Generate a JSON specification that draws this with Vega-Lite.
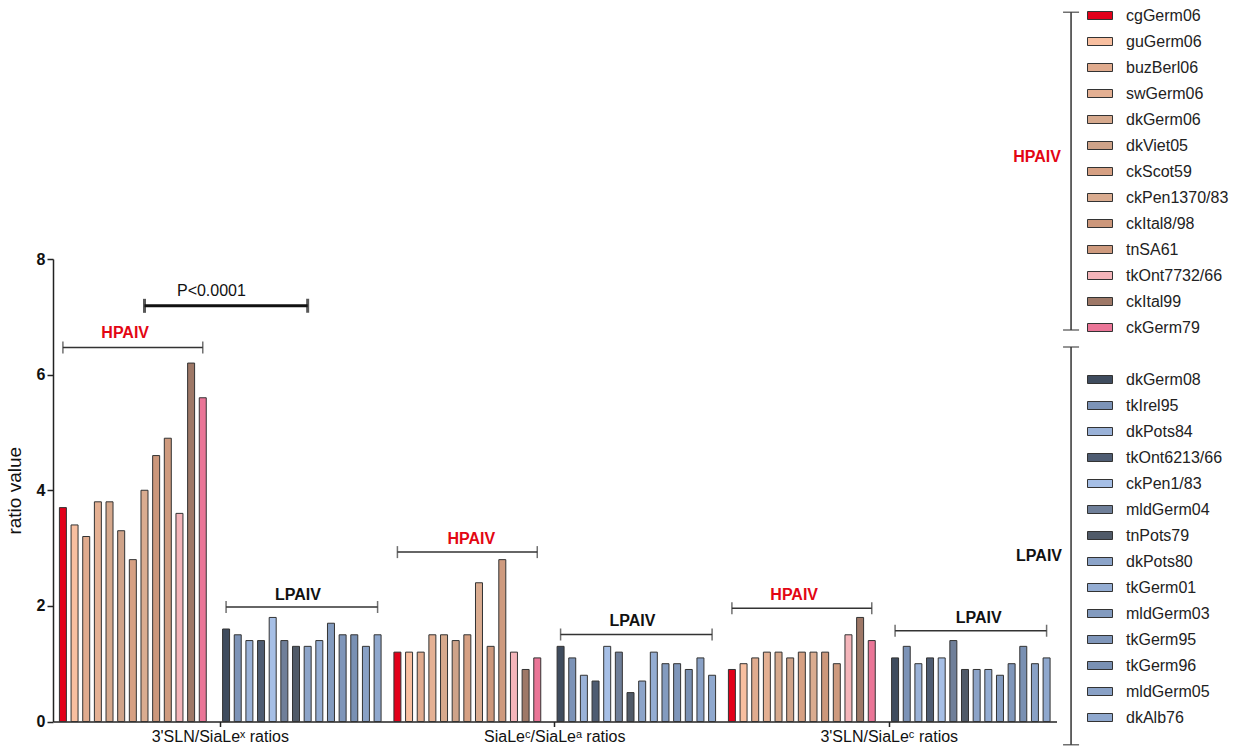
{
  "$schema": "https://vega.github.io/schema/vega-lite/v6.json",
  "width": 1003.5,
  "height": 462.5,
  "autosize": {"type": "none"},
  "padding": {"left": 53, "top": 259, "right": 176.5, "bottom": 26.5},
  "background": "white",
  "config": {
    "view": {"stroke": null},
    "font": "Liberation Sans, Arial, sans-serif",
    "axisY": {"titleFontSize": 19, "titleFontWeight": "normal", "titleColor": "#111", "titlePadding": 12, "format": "d", "labelFontSize": 16, "labelFontWeight": "bold", "labelColor": "#111", "grid": false, "tickSize": 6, "tickColor": "#222", "tickWidth": 1.5, "domainColor": "#222", "domainWidth": 1.5, "labelPadding": 2},
    "legend": {"orient": "none", "direction": "vertical", "title": null, "labelFontSize": 16, "labelColor": "#222", "labelOffset": 15.5, "symbolType": "M-1.25,-0.4H1.25V0.4H-1.25Z", "symbolSize": 400, "rowPadding": 7, "padding": 0, "symbolStrokeWidth": 1, "symbolStrokeColor": "#333"}
  },
  "datasets": {
    "bars": [
      {"ratio": "3'SLN/SiaLeˣ ratios", "strain": "cgGerm06", "value": 3.7},
      {"ratio": "3'SLN/SiaLeˣ ratios", "strain": "guGerm06", "value": 3.4},
      {"ratio": "3'SLN/SiaLeˣ ratios", "strain": "buzBerl06", "value": 3.2},
      {"ratio": "3'SLN/SiaLeˣ ratios", "strain": "swGerm06", "value": 3.8},
      {"ratio": "3'SLN/SiaLeˣ ratios", "strain": "dkGerm06", "value": 3.8},
      {"ratio": "3'SLN/SiaLeˣ ratios", "strain": "dkViet05", "value": 3.3},
      {"ratio": "3'SLN/SiaLeˣ ratios", "strain": "ckScot59", "value": 2.8},
      {"ratio": "3'SLN/SiaLeˣ ratios", "strain": "ckPen1370/83", "value": 4.0},
      {"ratio": "3'SLN/SiaLeˣ ratios", "strain": "ckItal8/98", "value": 4.6},
      {"ratio": "3'SLN/SiaLeˣ ratios", "strain": "tnSA61", "value": 4.9},
      {"ratio": "3'SLN/SiaLeˣ ratios", "strain": "tkOnt7732/66", "value": 3.6},
      {"ratio": "3'SLN/SiaLeˣ ratios", "strain": "ckItal99", "value": 6.2},
      {"ratio": "3'SLN/SiaLeˣ ratios", "strain": "ckGerm79", "value": 5.6},
      {"ratio": "3'SLN/SiaLeˣ ratios", "strain": "dkGerm08", "value": 1.6},
      {"ratio": "3'SLN/SiaLeˣ ratios", "strain": "tkIrel95", "value": 1.5},
      {"ratio": "3'SLN/SiaLeˣ ratios", "strain": "dkPots84", "value": 1.4},
      {"ratio": "3'SLN/SiaLeˣ ratios", "strain": "tkOnt6213/66", "value": 1.4},
      {"ratio": "3'SLN/SiaLeˣ ratios", "strain": "ckPen1/83", "value": 1.8},
      {"ratio": "3'SLN/SiaLeˣ ratios", "strain": "mldGerm04", "value": 1.4},
      {"ratio": "3'SLN/SiaLeˣ ratios", "strain": "tnPots79", "value": 1.3},
      {"ratio": "3'SLN/SiaLeˣ ratios", "strain": "dkPots80", "value": 1.3},
      {"ratio": "3'SLN/SiaLeˣ ratios", "strain": "tkGerm01", "value": 1.4},
      {"ratio": "3'SLN/SiaLeˣ ratios", "strain": "mldGerm03", "value": 1.7},
      {"ratio": "3'SLN/SiaLeˣ ratios", "strain": "tkGerm95", "value": 1.5},
      {"ratio": "3'SLN/SiaLeˣ ratios", "strain": "tkGerm96", "value": 1.5},
      {"ratio": "3'SLN/SiaLeˣ ratios", "strain": "mldGerm05", "value": 1.3},
      {"ratio": "3'SLN/SiaLeˣ ratios", "strain": "dkAlb76", "value": 1.5},
      {"ratio": "SiaLeᶜ/SiaLeᵃ ratios", "strain": "cgGerm06", "value": 1.2},
      {"ratio": "SiaLeᶜ/SiaLeᵃ ratios", "strain": "guGerm06", "value": 1.2},
      {"ratio": "SiaLeᶜ/SiaLeᵃ ratios", "strain": "buzBerl06", "value": 1.2},
      {"ratio": "SiaLeᶜ/SiaLeᵃ ratios", "strain": "swGerm06", "value": 1.5},
      {"ratio": "SiaLeᶜ/SiaLeᵃ ratios", "strain": "dkGerm06", "value": 1.5},
      {"ratio": "SiaLeᶜ/SiaLeᵃ ratios", "strain": "dkViet05", "value": 1.4},
      {"ratio": "SiaLeᶜ/SiaLeᵃ ratios", "strain": "ckScot59", "value": 1.5},
      {"ratio": "SiaLeᶜ/SiaLeᵃ ratios", "strain": "ckPen1370/83", "value": 2.4},
      {"ratio": "SiaLeᶜ/SiaLeᵃ ratios", "strain": "ckItal8/98", "value": 1.3},
      {"ratio": "SiaLeᶜ/SiaLeᵃ ratios", "strain": "tnSA61", "value": 2.8},
      {"ratio": "SiaLeᶜ/SiaLeᵃ ratios", "strain": "tkOnt7732/66", "value": 1.2},
      {"ratio": "SiaLeᶜ/SiaLeᵃ ratios", "strain": "ckItal99", "value": 0.9},
      {"ratio": "SiaLeᶜ/SiaLeᵃ ratios", "strain": "ckGerm79", "value": 1.1},
      {"ratio": "SiaLeᶜ/SiaLeᵃ ratios", "strain": "dkGerm08", "value": 1.3},
      {"ratio": "SiaLeᶜ/SiaLeᵃ ratios", "strain": "tkIrel95", "value": 1.1},
      {"ratio": "SiaLeᶜ/SiaLeᵃ ratios", "strain": "dkPots84", "value": 0.8},
      {"ratio": "SiaLeᶜ/SiaLeᵃ ratios", "strain": "tkOnt6213/66", "value": 0.7},
      {"ratio": "SiaLeᶜ/SiaLeᵃ ratios", "strain": "ckPen1/83", "value": 1.3},
      {"ratio": "SiaLeᶜ/SiaLeᵃ ratios", "strain": "mldGerm04", "value": 1.2},
      {"ratio": "SiaLeᶜ/SiaLeᵃ ratios", "strain": "tnPots79", "value": 0.5},
      {"ratio": "SiaLeᶜ/SiaLeᵃ ratios", "strain": "dkPots80", "value": 0.7},
      {"ratio": "SiaLeᶜ/SiaLeᵃ ratios", "strain": "tkGerm01", "value": 1.2},
      {"ratio": "SiaLeᶜ/SiaLeᵃ ratios", "strain": "mldGerm03", "value": 1.0},
      {"ratio": "SiaLeᶜ/SiaLeᵃ ratios", "strain": "tkGerm95", "value": 1.0},
      {"ratio": "SiaLeᶜ/SiaLeᵃ ratios", "strain": "tkGerm96", "value": 0.9},
      {"ratio": "SiaLeᶜ/SiaLeᵃ ratios", "strain": "mldGerm05", "value": 1.1},
      {"ratio": "SiaLeᶜ/SiaLeᵃ ratios", "strain": "dkAlb76", "value": 0.8},
      {"ratio": "3'SLN/SiaLeᶜ ratios", "strain": "cgGerm06", "value": 0.9},
      {"ratio": "3'SLN/SiaLeᶜ ratios", "strain": "guGerm06", "value": 1.0},
      {"ratio": "3'SLN/SiaLeᶜ ratios", "strain": "buzBerl06", "value": 1.1},
      {"ratio": "3'SLN/SiaLeᶜ ratios", "strain": "swGerm06", "value": 1.2},
      {"ratio": "3'SLN/SiaLeᶜ ratios", "strain": "dkGerm06", "value": 1.2},
      {"ratio": "3'SLN/SiaLeᶜ ratios", "strain": "dkViet05", "value": 1.1},
      {"ratio": "3'SLN/SiaLeᶜ ratios", "strain": "ckScot59", "value": 1.2},
      {"ratio": "3'SLN/SiaLeᶜ ratios", "strain": "ckPen1370/83", "value": 1.2},
      {"ratio": "3'SLN/SiaLeᶜ ratios", "strain": "ckItal8/98", "value": 1.2},
      {"ratio": "3'SLN/SiaLeᶜ ratios", "strain": "tnSA61", "value": 1.0},
      {"ratio": "3'SLN/SiaLeᶜ ratios", "strain": "tkOnt7732/66", "value": 1.5},
      {"ratio": "3'SLN/SiaLeᶜ ratios", "strain": "ckItal99", "value": 1.8},
      {"ratio": "3'SLN/SiaLeᶜ ratios", "strain": "ckGerm79", "value": 1.4},
      {"ratio": "3'SLN/SiaLeᶜ ratios", "strain": "dkGerm08", "value": 1.1},
      {"ratio": "3'SLN/SiaLeᶜ ratios", "strain": "tkIrel95", "value": 1.3},
      {"ratio": "3'SLN/SiaLeᶜ ratios", "strain": "dkPots84", "value": 1.0},
      {"ratio": "3'SLN/SiaLeᶜ ratios", "strain": "tkOnt6213/66", "value": 1.1},
      {"ratio": "3'SLN/SiaLeᶜ ratios", "strain": "ckPen1/83", "value": 1.1},
      {"ratio": "3'SLN/SiaLeᶜ ratios", "strain": "mldGerm04", "value": 1.4},
      {"ratio": "3'SLN/SiaLeᶜ ratios", "strain": "tnPots79", "value": 0.9},
      {"ratio": "3'SLN/SiaLeᶜ ratios", "strain": "dkPots80", "value": 0.9},
      {"ratio": "3'SLN/SiaLeᶜ ratios", "strain": "tkGerm01", "value": 0.9},
      {"ratio": "3'SLN/SiaLeᶜ ratios", "strain": "mldGerm03", "value": 0.8},
      {"ratio": "3'SLN/SiaLeᶜ ratios", "strain": "tkGerm95", "value": 1.0},
      {"ratio": "3'SLN/SiaLeᶜ ratios", "strain": "tkGerm96", "value": 1.3},
      {"ratio": "3'SLN/SiaLeᶜ ratios", "strain": "mldGerm05", "value": 1.0},
      {"ratio": "3'SLN/SiaLeᶜ ratios", "strain": "dkAlb76", "value": 1.1}
    ],
    "brackets": [
      {"id": "b1", "ratio": "3'SLN/SiaLeˣ ratios", "strain": "cgGerm06", "y": 6.47},
      {"id": "b1", "ratio": "3'SLN/SiaLeˣ ratios", "strain": "ckGerm79", "y": 6.47},
      {"id": "b2", "ratio": "3'SLN/SiaLeˣ ratios", "strain": "dkGerm08", "y": 1.98},
      {"id": "b2", "ratio": "3'SLN/SiaLeˣ ratios", "strain": "dkAlb76", "y": 1.98},
      {"id": "b3", "ratio": "SiaLeᶜ/SiaLeᵃ ratios", "strain": "cgGerm06", "y": 2.93},
      {"id": "b3", "ratio": "SiaLeᶜ/SiaLeᵃ ratios", "strain": "ckGerm79", "y": 2.93},
      {"id": "b4", "ratio": "SiaLeᶜ/SiaLeᵃ ratios", "strain": "dkGerm08", "y": 1.505},
      {"id": "b4", "ratio": "SiaLeᶜ/SiaLeᵃ ratios", "strain": "dkAlb76", "y": 1.505},
      {"id": "b5", "ratio": "3'SLN/SiaLeᶜ ratios", "strain": "cgGerm06", "y": 1.96},
      {"id": "b5", "ratio": "3'SLN/SiaLeᶜ ratios", "strain": "ckGerm79", "y": 1.96},
      {"id": "b6", "ratio": "3'SLN/SiaLeᶜ ratios", "strain": "dkGerm08", "y": 1.57},
      {"id": "b6", "ratio": "3'SLN/SiaLeᶜ ratios", "strain": "dkAlb76", "y": 1.57}
    ],
    "pbracket": [
      {"id": "p", "ratio": "3'SLN/SiaLeˣ ratios", "strain": "ckPen1370/83", "y": 7.19},
      {"id": "p", "ratio": "3'SLN/SiaLeˣ ratios", "strain": "dkPots80", "y": 7.19}
    ],
    "hlabels": [
      {"ratio": "3'SLN/SiaLeˣ ratios", "strain": "dkViet05", "y": 6.72, "text": "HPAIV"},
      {"ratio": "SiaLeᶜ/SiaLeᵃ ratios", "strain": "ckScot59", "y": 3.16, "text": "HPAIV"},
      {"ratio": "3'SLN/SiaLeᶜ ratios", "strain": "dkViet05", "y": 2.19, "text": "HPAIV"}
    ],
    "llabels": [
      {"ratio": "3'SLN/SiaLeˣ ratios", "strain": "tnPots79", "y": 2.19, "text": "LPAIV"},
      {"ratio": "SiaLeᶜ/SiaLeᵃ ratios", "strain": "tnPots79", "y": 1.73, "text": "LPAIV"},
      {"ratio": "3'SLN/SiaLeᶜ ratios", "strain": "dkPots80", "y": 1.79, "text": "LPAIV"}
    ],
    "plabel": [
      {"ratio": "3'SLN/SiaLeˣ ratios", "strain": " ", "y": 7.44, "text": "P<0.0001"}
    ],
    "legendBrackets": [
      {"group": "HPAIV", "pos": 1.0145, "top": 12.27, "bottom": 6.77, "labelPos": 0.9806, "labelY": 9.77},
      {"group": "LPAIV", "pos": 1.0145, "top": 6.48, "bottom": -0.4, "labelPos": 0.9826, "labelY": 2.86}
    ]
  },
  "layer": [
    {
      "encoding": {
        "x": {
          "field": "ratio", "type": "nominal", "sort": null,
          "scale": {"domain": ["3'SLN/SiaLeˣ ratios", "SiaLeᶜ/SiaLeᵃ ratios", "3'SLN/SiaLeᶜ ratios"], "paddingInner": 0, "paddingOuter": 0},
          "axis": {"title": null, "labelAngle": 0, "labelFontSize": 16, "labelColor": "#111", "domainColor": "#222", "domainWidth": 1.5, "tickColor": "#222", "tickWidth": 1.5, "tickSize": 5, "labelPadding": 2}
        },
        "xOffset": {
          "field": "strain", "type": "nominal",
          "scale": {
            "domain": ["cgGerm06", "guGerm06", "buzBerl06", "swGerm06", "dkGerm06", "dkViet05", "ckScot59", "ckPen1370/83", "ckItal8/98", "tnSA61", "tkOnt7732/66", "ckItal99", "ckGerm79", " ", "dkGerm08", "tkIrel95", "dkPots84", "tkOnt6213/66", "ckPen1/83", "mldGerm04", "tnPots79", "dkPots80", "tkGerm01", "mldGerm03", "tkGerm95", "tkGerm96", "mldGerm05", "dkAlb76"],
            "paddingInner": 0.4, "paddingOuter": 0.55
          }
        }
      },
      "layer": [
        {
          "data": {"name": "bars"},
          "transform": [{"filter": {"field": "strain", "oneOf": ["cgGerm06", "guGerm06", "buzBerl06", "swGerm06", "dkGerm06", "dkViet05", "ckScot59", "ckPen1370/83", "ckItal8/98", "tnSA61", "tkOnt7732/66", "ckItal99", "ckGerm79"]}}],
          "mark": {"type": "bar", "stroke": "#333", "strokeWidth": 1},
          "encoding": {
            "y": {
              "field": "value", "type": "quantitative",
              "scale": {"domain": [0, 8], "nice": false, "zero": true},
              "axis": {"title": "ratio value", "values": [0, 2, 4, 6, 8]}
            },
            "color": {
              "field": "strain", "type": "nominal",
              "scale": {
                "domain": ["cgGerm06", "guGerm06", "buzBerl06", "swGerm06", "dkGerm06", "dkViet05", "ckScot59", "ckPen1370/83", "ckItal8/98", "tnSA61", "tkOnt7732/66", "ckItal99", "ckGerm79"],
                "range": ["#E2001A", "#F8BFA0", "#E0AB8E", "#E4B093", "#D6A98D", "#CFA389", "#D6A083", "#DAAC90", "#CC977B", "#CE9A7E", "#F4B5BA", "#9E7867", "#EA7597"]
              },
              "legend": {"legendX": 1036.5, "legendY": -254}
            }
          }
        },
        {
          "data": {"name": "bars"},
          "transform": [{"filter": {"field": "strain", "oneOf": ["dkGerm08", "tkIrel95", "dkPots84", "tkOnt6213/66", "ckPen1/83", "mldGerm04", "tnPots79", "dkPots80", "tkGerm01", "mldGerm03", "tkGerm95", "tkGerm96", "mldGerm05", "dkAlb76"]}}],
          "mark": {"type": "bar", "stroke": "#333", "strokeWidth": 1},
          "encoding": {
            "y": {"field": "value", "type": "quantitative"},
            "fill": {
              "field": "strain", "type": "nominal",
              "scale": {
                "domain": ["dkGerm08", "tkIrel95", "dkPots84", "tkOnt6213/66", "ckPen1/83", "mldGerm04", "tnPots79", "dkPots80", "tkGerm01", "mldGerm03", "tkGerm95", "tkGerm96", "mldGerm05", "dkAlb76"],
                "range": ["#3F4C5E", "#7C93B7", "#9AB2D8", "#4E5C72", "#A6BFE6", "#6F7F99", "#505A68", "#8CA4C9", "#94ADD3", "#839BBF", "#7F96BA", "#7990B3", "#89A1C6", "#8FA8CE"]
              },
              "legend": {"legendX": 1036.5, "legendY": 110}
            }
          }
        },
        {
          "data": {"name": "brackets"},
          "mark": {"type": "line", "color": "#333", "strokeWidth": 1.5},
          "encoding": {"y": {"field": "y", "type": "quantitative"}, "detail": {"field": "id"}}
        },
        {
          "data": {"name": "brackets"},
          "mark": {"type": "tick", "orient": "vertical", "color": "#333", "size": 12, "thickness": 1.5},
          "encoding": {"y": {"field": "y", "type": "quantitative"}}
        },
        {
          "data": {"name": "pbracket"},
          "mark": {"type": "line", "color": "#111", "strokeWidth": 3},
          "encoding": {"y": {"field": "y", "type": "quantitative"}, "detail": {"field": "id"}}
        },
        {
          "data": {"name": "pbracket"},
          "mark": {"type": "tick", "orient": "vertical", "color": "#111", "size": 14, "thickness": 3},
          "encoding": {"y": {"field": "y", "type": "quantitative"}}
        },
        {
          "data": {"name": "hlabels"},
          "mark": {"type": "text", "color": "#E30613", "fontWeight": "bold", "fontSize": 16, "align": "center", "baseline": "middle", "dx": 4},
          "encoding": {"y": {"field": "y", "type": "quantitative"}, "text": {"field": "text"}}
        },
        {
          "data": {"name": "llabels"},
          "mark": {"type": "text", "color": "#111", "fontWeight": "bold", "fontSize": 16, "align": "center", "baseline": "middle", "dx": 2},
          "encoding": {"y": {"field": "y", "type": "quantitative"}, "text": {"field": "text"}}
        },
        {
          "data": {"name": "plabel"},
          "mark": {"type": "text", "color": "#111", "fontSize": 16, "align": "center", "baseline": "middle", "dx": -3},
          "encoding": {"y": {"field": "y", "type": "quantitative"}, "text": {"field": "text"}}
        }
      ]
    },
    {
      "data": {"name": "legendBrackets"},
      "encoding": {
        "x": {"field": "pos", "type": "quantitative", "scale": {"domain": [0, 1], "nice": false, "zero": false}, "axis": null}
      },
      "layer": [
        {
          "mark": {"type": "rule", "color": "#333", "strokeWidth": 1.5},
          "encoding": {"y": {"field": "top", "type": "quantitative"}, "y2": {"field": "bottom"}}
        },
        {
          "mark": {"type": "tick", "orient": "horizontal", "color": "#333", "size": 16, "thickness": 1.5},
          "encoding": {"y": {"field": "top", "type": "quantitative"}}
        },
        {
          "mark": {"type": "tick", "orient": "horizontal", "color": "#333", "size": 16, "thickness": 1.5},
          "encoding": {"y": {"field": "bottom", "type": "quantitative"}}
        },
        {
          "mark": {"type": "text", "fontWeight": "bold", "fontSize": 16, "align": "center", "baseline": "middle"},
          "encoding": {
            "x": {"field": "labelPos", "type": "quantitative"},
            "y": {"field": "labelY", "type": "quantitative"},
            "text": {"field": "group"},
            "color": {"condition": {"test": "datum.group === 'HPAIV'", "value": "#E30613"}, "value": "#111"}
          }
        }
      ]
    }
  ],
  "resolve": {"scale": {"x": "independent"}}
}
